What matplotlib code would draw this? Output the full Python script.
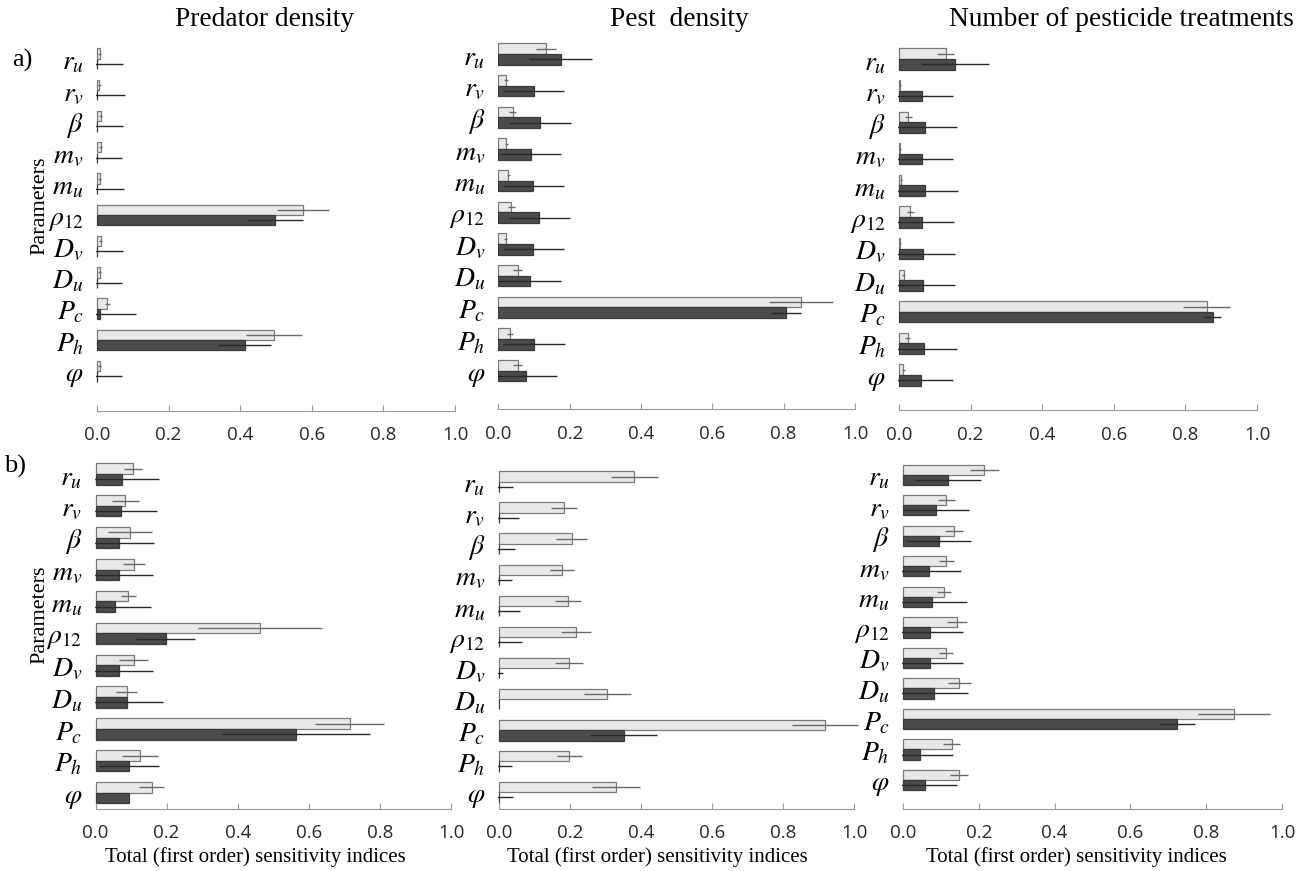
import numpy as np
import matplotlib.pyplot as plt

plt.rcParams['mathtext.fontset'] = 'stix'

W, H = 1302, 871

params = [r'$r_u$', r'$r_v$', r'$\beta$', r'$m_v$', r'$m_u$', r'$\rho_{12}$',
          r'$D_v$', r'$D_u$', r'$P_c$', r'$P_h$', r'$\varphi$']

# a) predator density
a_pred_total = [0.008, 0.006, 0.010, 0.010, 0.008, 0.575, 0.010, 0.008, 0.029, 0.494, 0.008]
a_pred_total_err = [0.004, 0.004, 0.005, 0.004, 0.004, 0.072, 0.005, 0.004, 0.008, 0.078, 0.004]
a_pred_first = [0.0, 0.0, 0.0, 0.0, 0.0, 0.498, 0.0, 0.0, 0.008, 0.413, 0.0]
a_pred_first_err = [0.073, 0.078, 0.072, 0.071, 0.075, 0.077, 0.073, 0.070, 0.100, 0.074, 0.071]

# a) pest density
a_pest_total = [0.134, 0.022, 0.040, 0.022, 0.028, 0.037, 0.021, 0.054, 0.848, 0.032, 0.054]
a_pest_total_err = [0.028, 0.005, 0.010, 0.004, 0.005, 0.010, 0.004, 0.012, 0.090, 0.008, 0.012]
a_pest_first = [0.175, 0.099, 0.117, 0.091, 0.098, 0.115, 0.098, 0.088, 0.807, 0.100, 0.077]
a_pest_first_err = [0.088, 0.085, 0.086, 0.086, 0.086, 0.085, 0.085, 0.087, 0.042, 0.087, 0.088]

# a) number of pesticide treatments
a_treat_total = [0.130, 0.003, 0.026, 0.003, 0.005, 0.032, 0.003, 0.013, 0.859, 0.024, 0.012]
a_treat_total_err = [0.025, 0.002, 0.010, 0.002, 0.002, 0.010, 0.002, 0.005, 0.065, 0.008, 0.005]
a_treat_first = [0.156, 0.064, 0.073, 0.064, 0.074, 0.065, 0.067, 0.066, 0.876, 0.070, 0.061]
a_treat_first_err = [0.094, 0.088, 0.088, 0.088, 0.090, 0.089, 0.089, 0.090, 0.023, 0.092, 0.089]

# b) predator density
b_pred_total = [0.106, 0.084, 0.097, 0.108, 0.092, 0.463, 0.108, 0.088, 0.715, 0.125, 0.158]
b_pred_total_err = [0.026, 0.037, 0.062, 0.032, 0.021, 0.174, 0.041, 0.029, 0.097, 0.051, 0.036]
b_pred_first = [0.074, 0.071, 0.065, 0.067, 0.056, 0.197, 0.067, 0.088, 0.563, 0.094, 0.095]
b_pred_first_err = [0.106, 0.103, 0.099, 0.095, 0.101, 0.084, 0.095, 0.102, 0.208, 0.085, 0.0]

# b) pest density
b_pest_total = [0.381, 0.184, 0.205, 0.178, 0.195, 0.217, 0.197, 0.305, 0.917, 0.199, 0.329]
b_pest_total_err = [0.066, 0.036, 0.043, 0.033, 0.036, 0.043, 0.040, 0.066, 0.092, 0.036, 0.067]
b_pest_first = [0.0, 0.0, 0.0, 0.0, 0.0, 0.0, 0.0, 0.0, 0.351, 0.0, 0.0]
b_pest_first_err = [0.041, 0.057, 0.046, 0.037, 0.060, 0.066, 0.013, 0.0, 0.094, 0.037, 0.041]

# b) number of pesticide treatments
b_treat_total = [0.215, 0.114, 0.134, 0.114, 0.108, 0.142, 0.113, 0.149, 0.874, 0.128, 0.148]
b_treat_total_err = [0.038, 0.022, 0.024, 0.020, 0.019, 0.026, 0.019, 0.030, 0.095, 0.023, 0.024]
b_treat_first = [0.119, 0.087, 0.094, 0.069, 0.077, 0.071, 0.071, 0.083, 0.724, 0.046, 0.057]
b_treat_first_err = [0.088, 0.086, 0.085, 0.085, 0.091, 0.086, 0.086, 0.089, 0.047, 0.087, 0.086]

col_titles = ['Predator density', 'Pest  density', 'Number of pesticide treatments']
xlabel = 'Total (first order) sensitivity indices'

# panel placement in pixels: x of 0.0, x of 1.0, y of first row, y of last row, y of axis line
panels = [
    (a_pred_total, a_pred_total_err, a_pred_first, a_pred_first_err, 97, 455, 58.75, 371.25, 411),
    (a_pest_total, a_pest_total_err, a_pest_first, a_pest_first_err, 498.3, 855, 54, 370.7, 409.3),
    (a_treat_total, a_treat_total_err, a_treat_first, a_treat_first_err, 899, 1257, 59, 375, 410.3),
    (b_pred_total, b_pred_total_err, b_pred_first, b_pred_first_err, 95.5, 451, 474, 792.7, 808.7),
    (b_pest_total, b_pest_total_err, b_pest_first, b_pest_first_err, 498.7, 854.3, 481.7, 792.3, 809),
    (b_treat_total, b_treat_total_err, b_treat_first, b_treat_first_err, 903, 1282, 474.7, 780, 808.7),
]

fig = plt.figure(figsize=(W / 100, H / 100), dpi=100)

xmin, xmax = -0.002, 1.06
pos = np.arange(len(params))[::-1]
h = 0.333

for i, (tot, tot_e, fst, fst_e, x0, x1, yt, yb, yax) in enumerate(panels):
    sc = x1 - x0
    pitch = (yb - yt) / 10
    ylo = -(yax - yb) / pitch
    yhi = 10.5
    left = x0 + xmin * sc
    right = x0 + xmax * sc
    top = yt - 0.5 * pitch
    ax = fig.add_axes([left / W, (H - yax) / H, (right - left) / W, (yax - top) / H])

    ax.barh(pos + h / 2, tot, height=h, color='#e8e8e8', edgecolor='#7a7a7a', linewidth=0.9)
    ax.barh(pos - h / 2, fst, height=h, color='#4b4b4b', edgecolor='#3a3a3a', linewidth=0.9)
    ax.errorbar(tot, pos + h / 2, xerr=tot_e, fmt='none', ecolor='#6a6a6a', elinewidth=1.0, capsize=0)
    ax.errorbar(fst, pos - h / 2, xerr=fst_e, fmt='none', ecolor='#2a2a2a', elinewidth=1.0, capsize=0)

    ax.set_xlim(xmin, xmax)
    ax.set_ylim(ylo, yhi)
    ax.set_yticks(pos)
    ax.set_yticklabels(params, fontsize=20)
    ax.tick_params(axis='y', length=0, pad=9)
    ax.set_xticks([0, 0.2, 0.4, 0.6, 0.8, 1.0])
    ax.set_xticklabels(['0.0', '0.2', '0.4', '0.6', '0.8', '1.0'], fontfamily='Open Sans',
                       fontsize=13.5, color='#2a2a2a')
    ax.tick_params(axis='x', direction='in', length=4, color='#9a9a9a', pad=11)
    for s in ['top', 'right', 'left']:
        ax.spines[s].set_visible(False)
    ax.spines['bottom'].set_bounds(0, 1)
    ax.spines['bottom'].set_color('#9a9a9a')
    ax.patch.set_alpha(0)

serif = 'Liberation Serif'
for x, t in zip([265, 679, 1121], col_titles):
    fig.text(x / W, 1 - 20 / H, t, fontfamily=serif, fontsize=19.7, ha='center', va='center')

for x in [255, 657, 1076]:
    fig.text(x / W, 1 - 857 / H, xlabel, fontfamily=serif, fontsize=15, ha='center', va='center')

fig.text(12 / W, 1 - 60 / H, 'a)', fontfamily=serif, fontsize=19, va='center')
fig.text(4 / W, 1 - 466 / H, 'b)', fontfamily=serif, fontsize=19, va='center')
fig.text(40 / W, 1 - 206 / H, 'Parameters', fontfamily=serif, fontsize=16, rotation=90,
         ha='center', va='center')
fig.text(40 / W, 1 - 615 / H, 'Parameters', fontfamily=serif, fontsize=16, rotation=90,
         ha='center', va='center')

fig.savefig('out.png', dpi=100)
